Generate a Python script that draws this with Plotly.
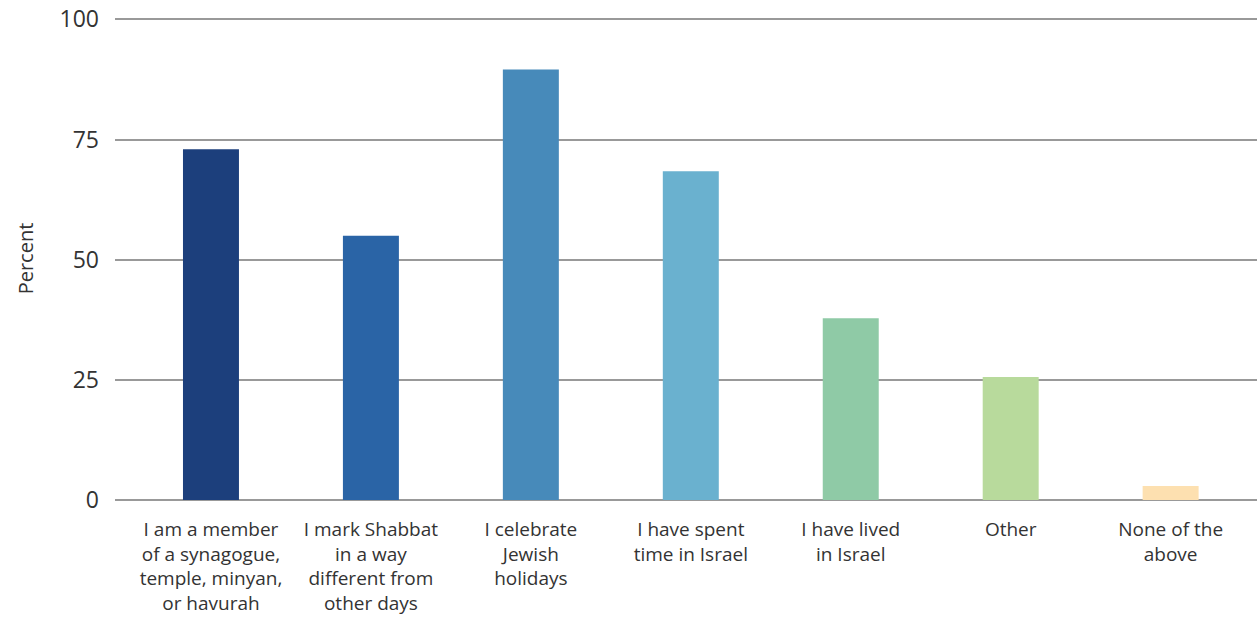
import plotly.graph_objects as go

categories = [
    "I am a member<br>of a synagogue,<br>temple, minyan,<br>or havurah",
    "I mark Shabbat<br>in a way<br>different from<br>other days",
    "I celebrate<br>Jewish<br>holidays",
    "I have spent<br>time in Israel",
    "I have lived<br>in Israel",
    "Other",
    "None of the<br>above",
]
values = [73, 55, 89.6, 68.4, 37.8, 25.6, 2.9]
colors = ["#1c3f7c", "#2a64a6", "#478aba", "#6ab1cf", "#8fcaa6", "#b8da9c", "#fde0b0"]
y_ticks = [0, 25, 50, 75, 100]

fig = go.Figure(go.Bar(x=categories, y=values, marker_color=colors, width=0.35,
                       marker_line_width=0))

fig.update_layout(
    width=1257, height=619,
    margin=dict(l=115, r=0, t=17, b=119),
    plot_bgcolor="white", paper_bgcolor="white",
    font=dict(family="Open Sans, sans-serif", color="#333333"),
    showlegend=False,
)
fig.update_xaxes(range=[-0.6, 6.54], showgrid=False, showline=False, ticks="",
                 tickfont=dict(size=19, color="#333333"), tickangle=0,
                 ticklabelstandoff=16, automargin=False)
fig.update_yaxes(range=[0, 100.5], tickvals=y_ticks, showgrid=True, gridcolor="#999999",
                 gridwidth=1.5, zeroline=True, zerolinecolor="#999999", zerolinewidth=1.5,
                 tickfont=dict(size=23, color="#333333"), ticklabelstandoff=15,
                 automargin=False,
                 title=dict(text="Percent", font=dict(size=20, color="#333333"), standoff=20))

fig.write_html("out.html")
